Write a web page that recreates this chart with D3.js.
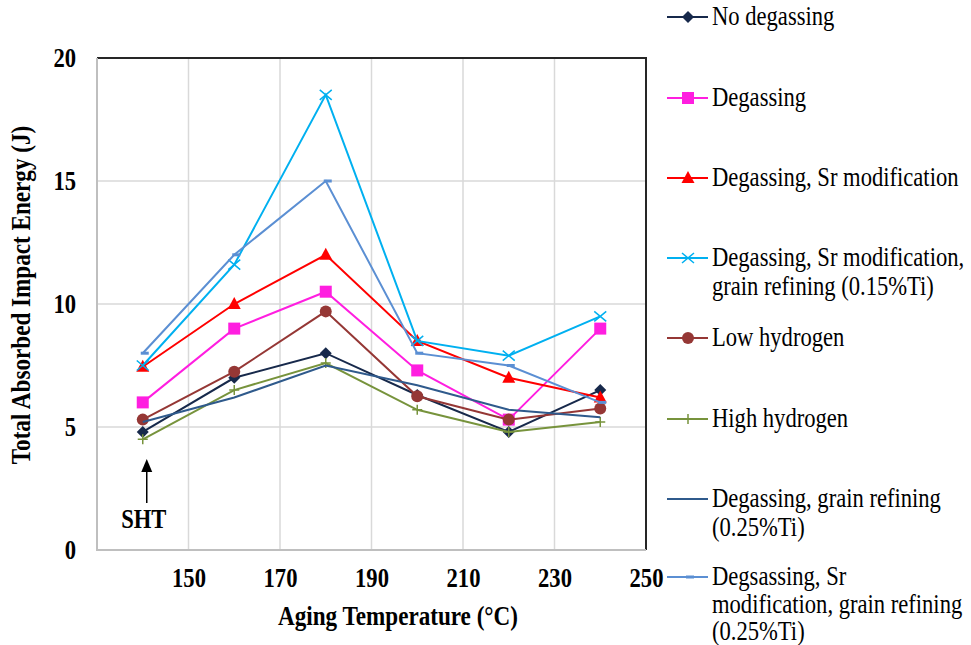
<!DOCTYPE html>
<html>
<head>
<meta charset="utf-8">
<script src="https://cdn.jsdelivr.net/npm/d3@7.9.0/dist/d3.min.js"></script>
<style>
  html, body { margin: 0; padding: 0; background: #fff; }
  svg { display: block; font-family: 'Liberation Serif', 'Times New Roman', serif; }
</style>
</head>
<body>
<div id="chart"></div>
<script>
// aging temperatures (°C)
const temps = [140, 160, 180, 200, 220, 240];

const seriesNames = [
  ['No degassing'],
  ['Degassing'],
  ['Degassing, Sr modification'],
  ['Degassing, Sr modification,', 'grain refining (0.15%Ti)'],
  ['Low hydrogen'],
  ['High hydrogen'],
  ['Degassing, grain refining', '(0.25%Ti)'],
  ['Degsassing, Sr', 'modification, grain refining', '(0.25%Ti)'],
];

const noDegassing = [4.8, 7.0, 8.0, 6.3, 4.8, 6.5];
const degassing = [6.0, 9.0, 10.5, 7.3, 5.3, 9.0];
const degassingSr = [7.45, 10.0, 12.0, 8.5, 7.0, 6.2];
const degassingSrGr015 = [7.5, 11.6, 18.5, 8.5, 7.9, 9.5];
const lowHydrogen = [5.3, 7.25, 9.7, 6.25, 5.3, 5.75];
const highHydrogen = [4.5, 6.5, 7.6, 5.7, 4.8, 5.2];
const degassingGr025 = [5.2, 6.2, 7.5, 6.7, 5.7, 5.4];
const degassingSrGr025 = [8.0, 12.0, 15.0, 8.0, 7.5, 6.0];

const xTicks = [150, 170, 190, 210, 230, 250];
const yTicks = [0, 5, 10, 15, 20];

const seriesValues = [
  noDegassing, degassing, degassingSr, degassingSrGr015,
  lowHydrogen, highHydrogen, degassingGr025, degassingSrGr025,
];
const colors = ['#17294b', '#ff1ee0', '#ff0000', '#00b0f0', '#953735', '#77933c', '#2f5a8c', '#5b8fd3'];
const markers = ['diamond', 'square', 'triangle', 'x', 'circle', 'plus', 'none', 'dash'];

const width = 971;
const height = 645;
const plot = { left: 97, right: 646, top: 58, bottom: 550 };
const FONT = 22.6;
const STRETCH = 1.17; // the source picture is a bit taller than wide

function drawMarker(g, type, color, x, y) {
  if (type === 'diamond') {
    g.append('path').attr('d', `M${x},${y - 6}L${x + 6},${y}L${x},${y + 6}L${x - 6},${y}Z`).attr('fill', color);
  } else if (type === 'square') {
    g.append('rect').attr('x', x - 6).attr('y', y - 6).attr('width', 12).attr('height', 12).attr('fill', color);
  } else if (type === 'triangle') {
    g.append('path').attr('d', `M${x},${y - 7}L${x + 6.5},${y + 5}L${x - 6.5},${y + 5}Z`).attr('fill', color);
  } else if (type === 'circle') {
    g.append('circle').attr('cx', x).attr('cy', y).attr('r', 6).attr('fill', color);
  } else if (type === 'x') {
    g.append('path').attr('d', `M${x - 6},${y - 5}L${x + 6},${y + 5}M${x - 6},${y + 5}L${x + 6},${y - 5}`)
      .attr('stroke', color).attr('stroke-width', 1.5);
  } else if (type === 'plus') {
    g.append('path').attr('d', `M${x - 5},${y}L${x + 5},${y}M${x},${y - 5}L${x},${y + 5}`)
      .attr('stroke', color).attr('stroke-width', 1.5);
  } else if (type === 'dash') {
    g.append('rect').attr('x', x - 2).attr('y', y - 1.5).attr('width', 8).attr('height', 3).attr('fill', color);
  }
}

// text whose glyphs are stretched vertically like the source
function addText(parent, x, y, str, opts = {}) {
  const t = parent.append('text')
    .attr('transform', `translate(${x},${y}) ${opts.rotate ? 'scale(' + STRETCH + ',1) rotate(-90)' : 'scale(1,' + STRETCH + ')'}`)
    .attr('text-anchor', opts.anchor || 'start')
    .attr('font-size', opts.size || FONT)
    .attr('font-weight', opts.bold ? 'bold' : 'normal')
    .attr('fill', '#000')
    .text(str);
  if (opts.length) t.attr('textLength', opts.length).attr('lengthAdjust', 'spacingAndGlyphs');
  return t;
}

function renderChart() {
  const svg = d3.select('#chart').append('svg')
    .attr('width', width).attr('height', height);

  svg.append('rect').attr('width', width).attr('height', height).attr('fill', '#fff');

  const xScale = d3.scaleLinear().domain([130, 250]).range([plot.left, plot.right]);
  const yScale = d3.scaleLinear().domain([0, 20]).range([plot.bottom, plot.top]);

  // gridlines
  const grid = svg.append('g').attr('stroke', '#d9d9d9').attr('stroke-width', 1.5);
  yTicks.filter((d) => d > 0 && d < 20).forEach((d) => {
    grid.append('line').attr('x1', plot.left).attr('x2', plot.right)
      .attr('y1', yScale(d)).attr('y2', yScale(d));
  });
  xTicks.filter((d) => d < 250).forEach((d) => {
    grid.append('line').attr('y1', plot.top).attr('y2', plot.bottom)
      .attr('x1', xScale(d)).attr('x2', xScale(d));
  });

  // plot border: dark top/right, grey axis lines left/bottom
  svg.append('path')
    .attr('d', `M${plot.left},${plot.top}H${plot.right}V${plot.bottom}`)
    .attr('fill', 'none').attr('stroke', '#262626').attr('stroke-width', 2);
  svg.append('path')
    .attr('d', `M${plot.left},${plot.top}V${plot.bottom}H${plot.right}`)
    .attr('fill', 'none').attr('stroke', '#bfbfbf').attr('stroke-width', 2);

  // axes
  const yAxis = svg.append('g')
    .attr('transform', `translate(${plot.left - 21},0)`)
    .call(d3.axisLeft(yScale).tickValues(yTicks).tickSize(0).tickPadding(0));
  const xAxis = svg.append('g')
    .attr('transform', `translate(0,${plot.bottom})`)
    .call(d3.axisBottom(xScale).tickValues(xTicks).tickSize(0).tickPadding(0));
  yAxis.selectAll('text').attr('x', 0).attr('dy', 0)
    .attr('transform', `translate(0,8.5) scale(1,${STRETCH})`);
  xAxis.selectAll('text').attr('y', 0).attr('dy', 0)
    .attr('transform', `translate(0,37) scale(1,${STRETCH})`);
  [xAxis, yAxis].forEach((a) => {
    a.select('.domain').remove();
    a.selectAll('text')
      .attr('font-family', "'Liberation Serif', 'Times New Roman', serif")
      .attr('font-size', FONT).attr('font-weight', 'bold').attr('fill', '#000');
  });

  addText(svg, 398, 625, 'Aging Temperature (°C)', { anchor: 'middle', bold: true, length: 240 });
  addText(svg, 30, 295, 'Total Absorbed Impact Energy (J)', {
    anchor: 'middle', bold: true, rotate: true, length: 396 / STRETCH,
  });

  // series
  const line = d3.line().x((d) => xScale(d[0])).y((d) => yScale(d[1]));
  seriesValues.forEach((vals, i) => {
    const g = svg.append('g');
    const pts = temps.map((t, j) => [t, vals[j]]);
    g.append('path').attr('d', line(pts))
      .attr('fill', 'none').attr('stroke', colors[i]).attr('stroke-width', 2);
    pts.forEach((p) => drawMarker(g, markers[i], colors[i], xScale(p[0]), yScale(p[1])));
  });

  // SHT annotation
  const ax = xScale(140) + 4;
  svg.append('line').attr('x1', ax).attr('x2', ax).attr('y1', 503).attr('y2', 470)
    .attr('stroke', '#000').attr('stroke-width', 1.5);
  svg.append('path').attr('d', `M${ax},459L${ax + 5.5},472L${ax - 5.5},472Z`).attr('fill', '#000');
  addText(svg, ax - 3, 528, 'SHT', { anchor: 'middle', bold: true });

  // legend
  const legend = svg.append('g');
  const rowY = [17, 98, 178, 258, 338, 419, 499, 577];
  const lineGap = [0, 0, 0, 29, 0, 0, 29, 27.5];
  seriesNames.forEach((lines, i) => {
    const y = rowY[i];
    const g = legend.append('g');
    g.append('line').attr('x1', 667).attr('x2', 708).attr('y1', y).attr('y2', y)
      .attr('stroke', colors[i]).attr('stroke-width', 2);
    drawMarker(g, markers[i], colors[i], 688, y);
    lines.forEach((s, k) => {
      addText(g, 712, y + 8 + k * lineGap[i], s);
    });
  });
}

renderChart();
</script>
</body>
</html>
